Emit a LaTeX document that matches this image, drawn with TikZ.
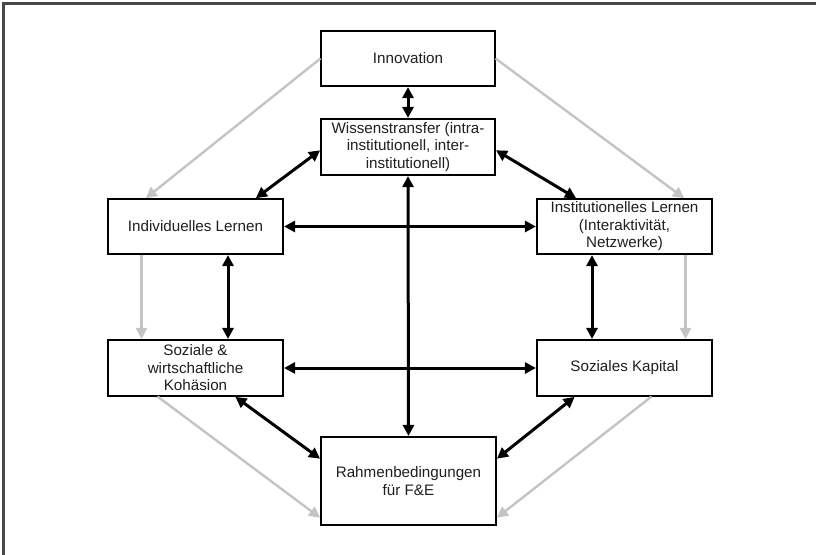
\documentclass[tikz,border=0pt]{standalone}
\usepackage{fontspec}
\setmainfont{Liberation Sans}
\usetikzlibrary{arrows.meta}
\begin{document}
\begin{tikzpicture}[x=1pt,y=-1pt,
  box/.style={draw=black, line width=1.1pt, fill=white, align=center,
    inner sep=2pt, font=\fontsize{15.2}{17.5}\selectfont, text=black!88},
  link/.style={line width=3pt, draw=black,
    {Triangle[length=11pt,width=11pt]}-{Triangle[length=11pt,width=11pt]}, shorten <=0.5pt, shorten >=0.5pt},
  flow/.style={line width=2.4pt, draw=black!23,
    -{Triangle[length=11pt,width=11pt]}, shorten >=0.5pt}]
\useasboundingbox (0,0) rectangle (816,554);
% frame edges (top and left only)
\draw[line width=2.2pt, draw=black!72] (3.5,555) -- (3.5,3.5) -- (817,3.5);

% boxes
\node[box, minimum width=174pt, minimum height=55pt] (inno) at (408,58.5) {Innovation};
\node[box, minimum width=174pt, minimum height=56pt] (wt) at (408,147) {Wissenstransfer (intra-\\institutionell, inter-\\institutionell)};
\node[box, minimum width=175pt, minimum height=55pt] (indiv) at (195.5,226.5) {Individuelles Lernen};
\node[box, minimum width=175pt, minimum height=55pt] (instit) at (624.5,226.5) {Institutionelles Lernen\\(Interaktivität,\\Netzwerke)};
\node[box, minimum width=175pt, minimum height=56pt] (soz) at (195.5,368) {Soziale \&\\wirtschaftliche\\Kohäsion};
\node[box, minimum width=175pt, minimum height=56pt] (kap) at (624.5,368) {Soziales Kapital};
\node[box, minimum width=175pt, minimum height=88pt] (rahmen) at (408.5,481) {Rahmenbedingungen\\für F\&E};

% grey one-way influences along the outer ring
\draw[flow] (inno.west) -- ([xshift=-50pt]indiv.north);
\draw[flow] (inno.east) -- ([xshift=60pt]instit.north);
\draw[flow] ([xshift=-54pt]indiv.south) -- ([xshift=-54pt]soz.north);
\draw[flow] ([xshift=61pt]instit.south) -- ([xshift=61pt]kap.north);
\draw[flow] ([xshift=-38pt]soz.south) -- ([yshift=-37pt]rahmen.west);
\draw[flow] ([xshift=27pt]kap.south) -- ([yshift=-37pt]rahmen.east);

% black two-way interactions
\draw[link] (inno.south) -- (wt.north);
\draw[link] ([yshift=-3pt]wt.west) -- ([xshift=60pt]indiv.north);
\draw[link] ([yshift=-3pt]wt.east) -- ([xshift=-48pt]instit.north);
\draw[link] (wt.south) -- (rahmen.north);
\draw[link] (indiv.east) -- (instit.west);
\draw[link] ([xshift=32.5pt]indiv.south) -- ([xshift=32.5pt]soz.north);
\draw[link] ([xshift=-32.5pt]instit.south) -- ([xshift=-32.5pt]kap.north);
\draw[link] (soz.east) -- (kap.west);
\draw[link] ([xshift=39.5pt]soz.south) -- ([yshift=22pt]rahmen.west);
\draw[link] ([xshift=-49.5pt]kap.south) -- ([yshift=22pt]rahmen.east);
\end{tikzpicture}
\end{document}
